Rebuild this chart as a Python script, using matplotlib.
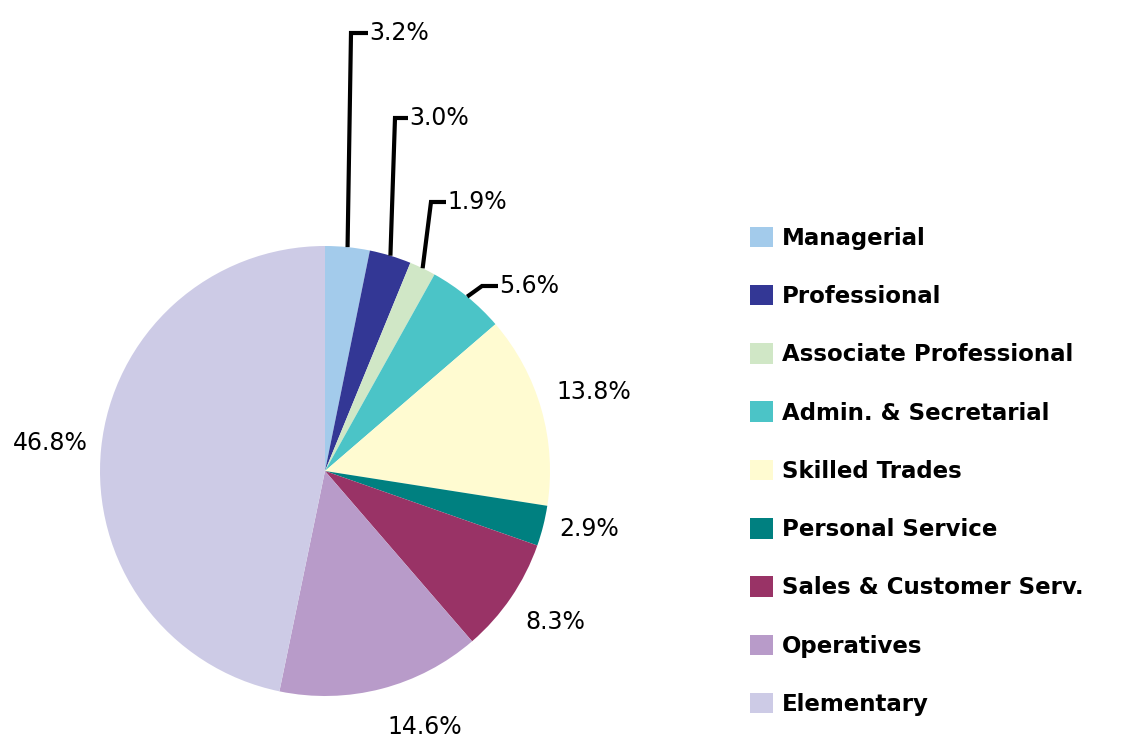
import matplotlib.pyplot as plt
import numpy as np
from matplotlib.patches import Patch

# occupation groups and their share (%)
categories = ['Managerial', 'Professional', 'Associate Professional',
              'Admin. & Secretarial', 'Skilled Trades', 'Personal Service',
              'Sales & Customer Serv.', 'Operatives', 'Elementary']
shares = [3.2, 3.0, 1.9, 5.6, 13.8, 2.9, 8.3, 14.6, 46.8]
colors = ['#A3CBEB', '#333795', '#D0E7C6', '#4BC4C7', '#FFFBD1',
          '#008080', '#993366', '#B89BC9', '#CDCBE6']

W, H = 1126, 742
fig = plt.figure(figsize=(W / 100, H / 100), dpi=100)
ax = fig.add_axes([0, 0, 1, 1])

cx, cy, r = 325, H - 471, 225
wedges, _ = ax.pie(shares, colors=colors, startangle=90, counterclock=False,
                   center=(cx, cy), radius=r, frame=True)
ax.set_xlim(0, W)
ax.set_ylim(0, H)
ax.set_aspect('equal')
ax.axis('off')

lab_font = dict(fontsize=17, family='DejaVu Sans', color='black')

# leader-line labels for the small slices: (knee x, knee y, text x) in pixels
leaders = {0: (351, 33, 368), 1: (395, 118, 408), 2: (431, 202, 446), 3: (482, 286, 498)}
# plain labels: centre positions in pixels
plain = {4: (594, 392), 5: (589, 529), 6: (555, 622), 7: (425, 727), 8: (50, 443)}

for i, w in enumerate(wedges):
    ang = np.deg2rad((w.theta1 + w.theta2) / 2)
    txt = f'{shares[i]:.1f}%'
    if i in leaders:
        kx, ky, tx = leaders[i]
        ex, ey = cx + r * np.cos(ang), cy + r * np.sin(ang)
        ax.plot([ex, kx, tx], [ey, H - ky, H - ky], color='black', lw=3,
                solid_joinstyle='miter', solid_capstyle='butt')
        ax.text(tx + 1, H - ky, txt, ha='left', va='center', **lab_font)
    else:
        px, py = plain[i]
        ax.text(px, H - py, txt, ha='center', va='center', **lab_font)

handles = [Patch(facecolor=c, edgecolor='none') for c in colors]
leg = fig.legend(handles, categories, loc='upper left', bbox_to_anchor=(729 / W, 1 - 206 / H),
                 frameon=False, prop=dict(family='DejaVu Sans', weight='bold', size=16.5),
                 handlelength=1.0, handleheight=1.0, handletextpad=0.4, labelspacing=1.535)

fig.savefig('out.png', dpi=100)
